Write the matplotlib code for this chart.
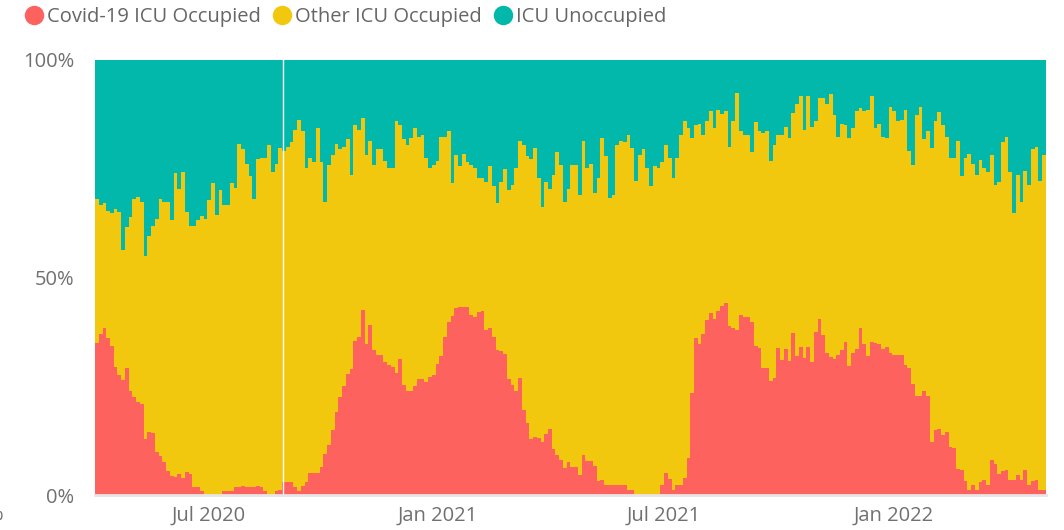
import datetime as dt

import matplotlib
matplotlib.use("Agg")
import matplotlib.pyplot as plt
import matplotlib.dates as mdates
from matplotlib.lines import Line2D
from matplotlib.ticker import FixedLocator, FuncFormatter
import numpy as np

plt.rcParams['font.family'] = ['Open Sans', 'DejaVu Sans']

# 3-day bins starting 1 Apr 2020
start_date = dt.date(2020, 4, 1)
bin_days = 3
gap_date = dt.date(2020, 8, 30)  # day with no report

# share of ICU beds taken by Covid-19 patients (%)
covid_pct = [
    34.9, 36.9, 38.3, 36.0, 34.2, 29.4, 27.5, 26.4, 29.1, 23.9,
    22.5, 21.4, 20.9, 12.8, 14.5, 14.2, 9.9, 8.9, 7.6, 5.5,
    4.4, 4.1, 4.8, 3.9, 5.3, 4.8, 1.8, 1.8, 0.9, 0.0,
    0.0, 0.0, 0.0, 0.0, 0.9, 0.9, 0.9, 1.8, 1.8, 2.1,
    1.8, 1.8, 1.8, 2.0, 1.8, 0.9, 0.0, 0.0, 0.9, 1.1,
    3.0, 3.0, 3.0, 1.8, 0.9, 2.1, 3.0, 5.0, 5.0, 5.0,
    6.4, 9.4, 11.5, 14.9, 19.0, 22.5, 25.0, 27.8, 28.9, 35.3,
    36.2, 42.4, 34.6, 39.0, 33.3, 32.1, 32.1, 30.5, 29.8, 29.4,
    28.0, 31.2, 25.2, 23.9, 23.9, 25.0, 26.6, 26.6, 25.9, 27.1,
    27.5, 30.0, 31.9, 36.2, 39.7, 41.1, 42.9, 43.1, 43.1, 43.1,
    41.3, 40.8, 42.0, 42.2, 37.8, 38.3, 36.2, 33.3, 33.0, 32.3,
    26.6, 25.2, 23.9, 26.8, 19.5, 16.5, 12.8, 13.3, 13.1, 12.2,
    14.0, 15.1, 10.6, 9.2, 8.0, 6.2, 7.6, 6.4, 6.4, 4.6,
    9.2, 7.8, 7.8, 6.7, 3.2, 3.4, 2.3, 2.3, 2.3, 2.3,
    2.3, 2.3, 1.1, 1.1, 0.0, 0.0, 0.0, 0.0, 0.0, 0.0,
    0.0, 2.3, 5.0, 3.7, 1.1, 2.3, 2.3, 3.9, 8.5, 23.4,
    36.0, 34.6, 36.9, 40.1, 41.7, 40.4, 42.2, 43.3, 44.0, 38.8,
    38.3, 37.8, 41.3, 40.8, 40.8, 39.7, 34.2, 33.7, 29.1, 29.1,
    26.1, 26.8, 33.7, 31.0, 33.5, 30.7, 37.2, 31.9, 33.9, 31.4,
    33.9, 30.5, 37.4, 40.4, 36.7, 32.6, 31.7, 31.2, 32.1, 33.3,
    35.1, 29.6, 32.6, 33.5, 38.3, 34.6, 31.9, 35.1, 34.9, 34.6,
    33.5, 33.9, 32.6, 32.1, 32.1, 32.1, 29.8, 29.1, 25.5, 22.7,
    22.7, 23.9, 22.7, 12.2, 14.9, 15.1, 13.8, 14.4, 11.0, 10.8,
    6.0, 5.7, 3.2, 1.1, 2.3, 1.1, 3.0, 3.4, 2.3, 8.0,
    7.1, 4.8, 5.5, 5.7, 3.4, 3.4, 4.6, 3.4, 5.7, 2.3,
    3.2, 3.4, 1.1, 1.1,
]

# share of ICU beds occupied by any patient (%)
occupied_pct = [
    68.0, 66.7, 67.0, 65.2, 64.8, 65.6, 64.9, 56.2, 61.5, 63.8,
    67.9, 68.5, 67.2, 55.0, 59.6, 61.7, 63.3, 67.9, 67.2, 67.2,
    63.1, 73.9, 70.4, 74.1, 65.1, 61.7, 61.7, 63.1, 64.0, 63.3,
    67.7, 71.6, 64.2, 70.0, 66.5, 66.5, 71.6, 70.6, 80.7, 79.4,
    76.1, 73.2, 67.9, 77.1, 77.3, 77.3, 80.5, 74.1, 76.1, 79.8,
    79.1, 80.0, 81.0, 83.9, 86.2, 83.5, 75.0, 77.5, 76.6, 84.2,
    76.6, 67.2, 75.7, 78.0, 80.7, 79.4, 80.0, 81.7, 73.6, 85.0,
    83.9, 86.5, 78.0, 81.4, 75.7, 79.4, 79.4, 76.8, 75.0, 75.2,
    85.8, 84.9, 81.7, 80.5, 81.9, 84.2, 82.3, 82.6, 77.5, 75.0,
    75.7, 76.8, 82.3, 82.3, 83.7, 71.6, 78.2, 75.5, 78.4, 76.4,
    75.9, 75.0, 72.7, 72.9, 71.8, 75.5, 70.9, 67.0, 71.8, 74.8,
    70.0, 71.1, 75.0, 81.4, 80.5, 77.8, 77.1, 79.6, 72.7, 66.1,
    72.0, 70.4, 73.4, 78.7, 75.7, 67.2, 70.4, 75.7, 75.7, 68.8,
    81.2, 75.0, 76.0, 69.3, 72.9, 82.0, 77.8, 68.3, 68.8, 80.3,
    81.2, 81.0, 82.6, 79.6, 72.2, 78.2, 79.4, 75.2, 70.9, 75.5,
    75.0, 76.6, 80.3, 77.5, 72.7, 77.5, 82.6, 85.8, 84.4, 81.9,
    84.9, 85.3, 82.8, 85.8, 88.1, 84.2, 88.5, 87.5, 88.1, 80.0,
    85.8, 92.4, 83.7, 82.6, 82.6, 78.7, 85.6, 83.5, 83.2, 83.7,
    76.8, 80.4, 82.8, 82.8, 84.6, 81.9, 87.8, 89.7, 91.7, 83.9,
    91.7, 84.6, 86.0, 91.3, 91.3, 89.7, 92.2, 87.2, 82.3, 85.3,
    84.9, 81.9, 84.2, 88.1, 88.8, 88.3, 88.5, 91.7, 84.4, 85.3,
    82.3, 82.1, 89.2, 88.3, 85.8, 86.2, 88.5, 79.1, 75.9, 87.2,
    89.2, 81.7, 83.5, 79.8, 86.0, 88.0, 84.9, 82.3, 77.5, 77.5,
    81.2, 73.2, 77.5, 78.4, 76.1, 73.6, 77.0, 75.2, 74.1, 78.0,
    71.3, 72.0, 81.0, 82.3, 74.3, 64.7, 73.6, 67.4, 74.5, 71.3,
    79.4, 80.0, 72.2, 78.0,
]

series_names = ['Covid-19 ICU Occupied', 'Other ICU Occupied', 'ICU Unoccupied']
series_colors = ['#FD625E', '#F2C80F', '#01B8AA']

tick_dates = [dt.date(2020, 7, 1), dt.date(2021, 1, 1), dt.date(2021, 7, 1), dt.date(2022, 1, 1)]
tick_labels = ['Jul 2020', 'Jan 2021', 'Jul 2021', 'Jan 2022']

covid = np.array(covid_pct)
occupied = np.array(occupied_pct)
other = occupied - covid
unoccupied = 100 - occupied

dates = [start_date + dt.timedelta(days=bin_days * i) for i in range(len(covid))]
x = mdates.date2num(dates)
end_date = start_date + dt.timedelta(days=bin_days * len(covid))

text_size = 14.5
text_color = '#707070'

fig = plt.figure(figsize=(10.64, 5.30), dpi=100)
ax = fig.add_axes([0.0893, 0.066, 0.8937, 0.8215])

bottom = np.zeros(len(covid))
for vals, color in zip([covid, other, unoccupied], series_colors):
    ax.bar(x, vals, width=bin_days, bottom=bottom, align='edge',
           color=color, linewidth=0, antialiased=False)
    bottom = bottom + vals

ax.axvline(mdates.date2num(gap_date), color='white', linewidth=1)

ax.set_xlim(mdates.date2num(start_date), mdates.date2num(end_date))
ax.set_ylim(0, 100)
ax.xaxis.set_major_locator(FixedLocator(mdates.date2num(tick_dates)))
ax.set_xticklabels(tick_labels)
ax.yaxis.set_major_locator(FixedLocator([0, 50, 100]))
ax.yaxis.set_major_formatter(FuncFormatter(lambda v, _: f'{v:.0f}%'))
ax.tick_params(axis='both', length=0, labelsize=text_size, colors=text_color)
ax.tick_params(axis='y', pad=15)
ax.tick_params(axis='x', pad=8)
for side in ['top', 'right', 'left']:
    ax.spines[side].set_visible(False)
ax.spines['bottom'].set_color('#e6e6e6')
ax.spines['bottom'].set_linewidth(2)

handles = [Line2D([], [], marker='o', linestyle='none', markersize=14,
                  markerfacecolor=c, markeredgewidth=0) for c in series_colors]
fig.legend(handles, series_names, loc='upper left',
           bbox_to_anchor=(24 / 1064, 1 - 7 / 530),
           ncol=3, frameon=False, fontsize=text_size, labelcolor='#666666',
           borderpad=0, borderaxespad=0, handlelength=0.95,
           handletextpad=0.2, columnspacing=0.55)

fig.text(-0.004, 1 - 515 / 530, '%', fontsize=text_size, color=text_color,
         ha='center', va='center')

fig.savefig('out.png', dpi=100)
